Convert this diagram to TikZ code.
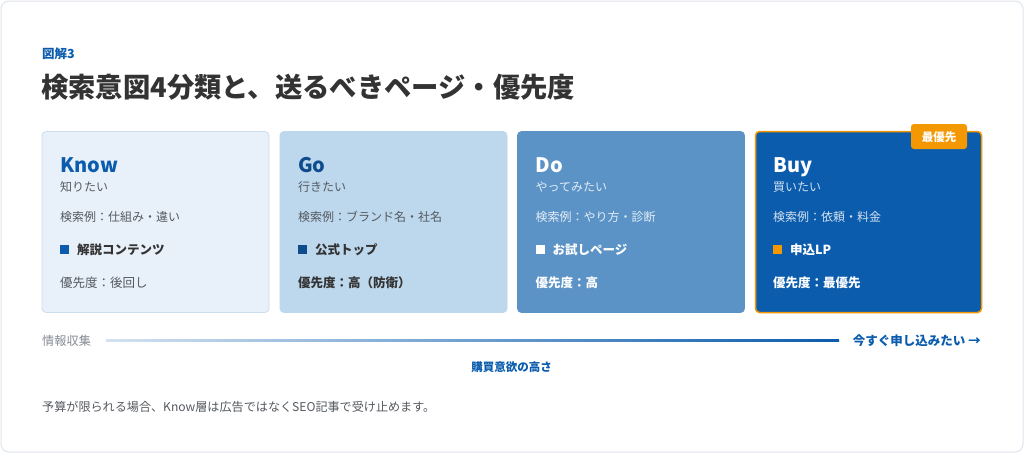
\documentclass[tikz,border=0pt]{standalone}
\usepackage{fontspec}
\setmainfont{Noto Sans CJK JP}
\definecolor{frameb}{HTML}{DFE5ED}
\definecolor{cOneF}{HTML}{E8F1F9}
\definecolor{cOneB}{HTML}{CCDDEE}
\definecolor{cTwoF}{HTML}{BDD7EC}
\definecolor{cThreeF}{HTML}{5C93C6}
\definecolor{cFourF}{HTML}{0C5CAD}
\definecolor{orangeA}{HTML}{F39800}
\definecolor{blueA}{HTML}{0B5CAD}
\definecolor{navyA}{HTML}{0E4C8E}
\definecolor{grayA}{HTML}{555A60}
\definecolor{darkA}{HTML}{333333}
\definecolor{grayB}{HTML}{878C94}
\definecolor{lineL}{HTML}{D3E2F1}
\definecolor{subThree}{HTML}{E3EDF7}
\definecolor{subFour}{HTML}{D2E1F1}
\begin{document}
\begin{tikzpicture}[x=1pt,y=-1pt,
  cardbox/.style={rounded corners=4pt,line width=0.8pt},
  txt/.style={inner sep=0pt,anchor=west},
  head/.style={inner sep=0pt,anchor=base west,font=\fontsize{20}{20}\selectfont\bfseries},
  sub/.style={txt,font=\fontsize{12}{12}\selectfont},
  pagetxt/.style={txt,font=\fontsize{12.5}{12.5}\selectfont\bfseries},
  prio/.style={txt,font=\fontsize{12.5}{12.5}\selectfont}]
\useasboundingbox (0,0) rectangle (1024,453);
\fill[white] (0,0) rectangle (1024,453);
\draw[frameb,line width=1pt,rounded corners=8pt,fill=white] (1,1) rectangle (1023,452);
% titles
\node[txt,text=blueA,font=\fontsize{12.5}{12.5}\selectfont\bfseries] (fig) at (42,53.5) {図解3};
\node[txt,text=darkA,font=\fontsize{27.3}{27.3}\selectfont\bfseries] (title) at (41,87.5) {検索意図4分類と、送るべきページ・優先度};
% card 1
\draw[cardbox,fill=cOneF,draw=cOneB] (42,131.5) rectangle (269,312.5);
\node[head,text=blueA] (k1) at (60,172) {Know};
\node[sub,text=grayA] (s1) at (60,187) {知りたい};
\node[sub,text=grayA] (e1) at (60,217) {検索例：仕組み・違い};
\fill[blueA] (60,245) rectangle (69,254);
\node[pagetxt,text=darkA] (p1) at (77,249.5) {解説コンテンツ};
\node[prio,text=grayA] (r1) at (60,283) {優先度：後回し};
% card 2
\draw[cardbox,fill=cTwoF,draw=cTwoF] (280,131.5) rectangle (507,312.5);
\node[head,text=navyA] (k2) at (298,172) {Go};
\node[sub,text=grayA] (s2) at (298,187) {行きたい};
\node[sub,text=grayA] (e2) at (298,217) {検索例：ブランド名・社名};
\fill[navyA] (298,245) rectangle (307,254);
\node[pagetxt,text=darkA] (p2) at (315,249.5) {公式トップ};
\node[prio,text=darkA,font=\fontsize{12.5}{12.5}\selectfont\bfseries] (r2) at (298,283) {優先度：高（防衛）};
% card 3
\draw[cardbox,fill=cThreeF,draw=cThreeF] (517.5,131.5) rectangle (744.5,312.5);
\node[head,text=white] (k3) at (535.5,172) {Do};
\node[sub,text=subThree] (s3) at (535.5,187) {やってみたい};
\node[sub,text=subThree] (e3) at (535.5,217) {検索例：やり方・診断};
\fill[white] (535.5,245) rectangle (544.5,254);
\node[pagetxt,text=white] (p3) at (552.5,249.5) {お試しページ};
\node[prio,text=white,font=\fontsize{12.5}{12.5}\selectfont\bfseries] (r3) at (535.5,283) {優先度：高};
% card 4
\draw[cardbox,fill=cFourF,draw=orangeA,line width=1.5pt] (755.5,131.5) rectangle (981.5,312.5);
\node[head,text=white] (k4) at (773,172) {Buy};
\node[sub,text=subFour] (s4) at (773,187) {買いたい};
\node[sub,text=subFour] (e4) at (773,217) {検索例：依頼・料金};
\fill[orangeA] (773,245) rectangle (782,254);
\node[pagetxt,text=white] (p4) at (790,249.5) {申込LP};
\node[prio,text=white,font=\fontsize{12.5}{12.5}\selectfont\bfseries] (r4) at (773,283) {優先度：最優先};
% badge
\fill[orangeA,rounded corners=3pt] (911,124) rectangle (967,149);
\node[inner sep=0pt,text=white,font=\fontsize{11.5}{11.5}\selectfont\bfseries] (badge) at (939,137) {最優先};
% axis
\node[txt,text=grayB,font=\fontsize{12.2}{12.2}\selectfont] (axl) at (42,340.5) {情報収集};
\node[inner sep=0pt,anchor=east,text=blueA,font=\fontsize{12.5}{12.5}\selectfont\bfseries] (axr) at (981,340.5) {今すぐ申し込みたい →};
\coordinate (ls) at (106,339);
\coordinate (le) at (839,341);
\shade[left color=lineL,right color=blueA] (ls) rectangle (le);
\node[inner sep=0pt,text=blueA,font=\fontsize{11.5}{11.5}\selectfont\bfseries] (axc) at (511.5,367) {購買意欲の高さ};
\node[txt,text=grayA,font=\fontsize{12.1}{12.1}\selectfont] (note) at (42,407) {予算が限られる場合、Know層は広告ではなくSEO記事で受け止めます。};
\end{tikzpicture}
\end{document}
